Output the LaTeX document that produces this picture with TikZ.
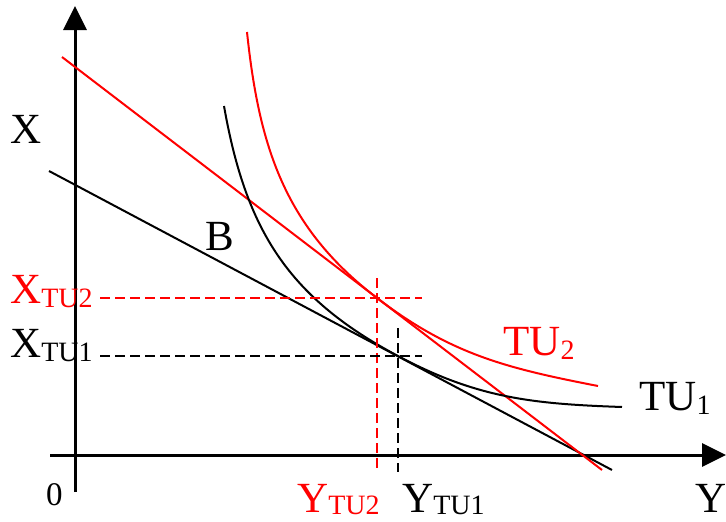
\documentclass[tikz,border=0pt]{standalone}
\usepackage{fontspec}
\setmainfont{Liberation Serif}
\usetikzlibrary{arrows.meta}
\newcommand{\bigf}{\fontsize{43}{48}\selectfont}
\newcommand{\subf}[1]{\raisebox{-4pt}{\fontsize{28}{32}\selectfont #1}}
\newcommand{\subl}[1]{\raisebox{-2pt}{\fontsize{28}{32}\selectfont #1}}
\begin{document}
\begin{tikzpicture}[x=1pt,y=-1pt,
  axisline/.style={line width=3pt,-{Triangle[length=24pt,width=23pt]}},
  curveline/.style={line width=2pt},
  guide/.style={line width=1.7pt,dash pattern=on 10pt off 5pt},
  lbl/.style={anchor=base west,inner sep=0pt,font=\bigf}]
\useasboundingbox (0,0) rectangle (726,522);
% axes
\coordinate (vb) at (75,492);
\coordinate (vt) at (75,6);
\coordinate (hl) at (50,455);
\coordinate (hr) at (726,455);
\draw[axisline] (vb) -- (vt);
\draw[axisline] (hl) -- (hr);
% budget lines
\coordinate (b1s) at (49,171);
\coordinate (b1e) at (612,470);
\coordinate (b2s) at (62,57);
\coordinate (b2e) at (602,470);
\draw[curveline] (b1s) -- (b1e);
\draw[curveline,red] (b2s) -- (b2e);
% indifference curves
\coordinate (t1s) at (224,106);
\coordinate (t1m) at (398,356);
\coordinate (t1e) at (622,407);
\coordinate (t2s) at (247,32);
\coordinate (t2m) at (377,298);
\coordinate (t2e) at (598,386);
\draw[curveline] (t1s) to[out=-80,in=152,looseness=1.05] (t1m) to[out=-28,in=178] (t1e);
\draw[curveline,red] (t2s) to[out=-84,in=142.6,looseness=1.0] (t2m) to[out=-37.4,in=169] (t2e);
% guides
\coordinate (g2l) at (100,298);
\coordinate (g2r) at (422,298);
\coordinate (g2t) at (377,278);
\coordinate (g2b) at (377,472);
\coordinate (g1l) at (100,356);
\coordinate (g1r) at (422,356);
\coordinate (g1t) at (398,328);
\coordinate (g1b) at (398,472);
\draw[guide,red] (g2l) -- (g2r);
\draw[guide,red] (g2t) -- (g2b);
\draw[guide] (g1l) -- (g1r);
\draw[guide] (g1t) -- (g1b);
% labels
\node[lbl] (lx) at (10,143) {X};
\node[lbl,red] (lxt2) at (10,303) {X\subf{TU2}};
\node[lbl] (lxt1) at (10,357) {X\subf{TU1}};
\node[lbl] (lb) at (205,250) {B};
\node[lbl,font=\fontsize{33}{36}\selectfont] (l0) at (46,505) {0};
\node[lbl,red] (lyt2) at (297,512) {Y\subl{TU2}};
\node[lbl] (lyt1) at (402,512) {Y\subl{TU1}};
\node[lbl] (ly) at (695,512) {Y};
\node[lbl,red] (ltu2) at (503,355) {TU\subf{2}};
\node[lbl] (ltu1) at (639,410) {TU\subf{1}};
\end{tikzpicture}
\end{document}
